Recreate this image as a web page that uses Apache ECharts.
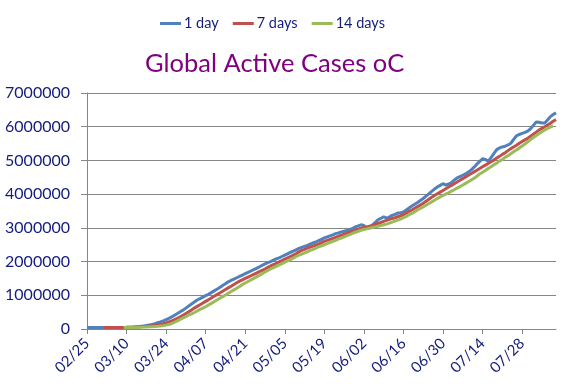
<!DOCTYPE html>
<html>
<head>
<meta charset="utf-8">
<script src="https://cdn.jsdelivr.net/npm/echarts@6/dist/echarts.min.js"></script>
<style>
html,body{margin:0;padding:0;background:#fff;}
#c{width:577px;height:384px;}
</style>
</head>
<body>
<div id="c"></div>
<script>
// Category labels: daily dates 02/25 .. 08/09
const monthDays = [["02", 25, 29], ["03", 1, 31], ["04", 1, 30], ["05", 1, 31], ["06", 1, 30], ["07", 1, 31], ["08", 1, 9]];
const categories = [];
monthDays.forEach(([m, a, b]) => { for (let d = a; d <= b; d++) categories.push(m + "/" + String(d).padStart(2, "0")); });

// Values in thousands
const oneDay = [
48,47,47,46,45,44,43,42,42,43,44,45,46,47,
50,55,60,66,73,82,92,103,118,138,160,185,210,240,275,
315,360,410,460,510,560,620,680,740,800,860,900,945,990,
1030,1080,1130,1180,1230,1290,1340,1400,1440,1480,1520,1560,1600,1640,
1680,1720,1760,1800,1840,1890,1930,1970,2000,2040,2080,2110,2150,2190,
2230,2270,2310,2350,2390,2420,2450,2480,2520,2550,2580,2620,2660,2700,
2730,2760,2790,2830,2850,2880,2900,2920,2950,2980,3030,3060,3090,3070,
2990,3010,3080,3160,3240,3280,3330,3290,3320,3370,3400,3440,3450,3470,
3530,3590,3650,3700,3750,3810,3870,3940,4010,4080,4150,4210,4260,4310,
4270,4300,4340,4420,4480,4520,4560,4600,4660,4720,4800,4890,4970,5050,
5030,4980,5080,5200,5320,5370,5400,5420,5460,5510,5620,5730,5770,5800,
5830,5870,5940,6040,6140,6130,6110,6110,6200,6300,6360,6410
];
const sevenDays = [
null,null,null,null,null,null,45,45,45,45,46,46,47,48,
49,51,53,56,60,65,71,78,87,97,110,125,142,160,180,
210,240,275,315,360,410,460,510,565,620,670,720,770,820,
870,920,970,1020,1070,1120,1170,1220,1270,1320,1370,1420,1460,1500,
1540,1580,1620,1660,1700,1740,1780,1830,1870,1910,1950,1990,2030,2070,
2110,2150,2190,2230,2290,2330,2360,2400,2430,2460,2490,2520,2560,2600,
2630,2660,2690,2720,2750,2780,2810,2840,2870,2900,2930,2960,2990,3010,
3030,3050,3070,3100,3130,3160,3190,3220,3250,3280,3300,3330,3360,3390,
3440,3490,3530,3580,3630,3680,3730,3790,3850,3910,3960,4010,4060,4110,
4160,4210,4260,4310,4360,4410,4460,4510,4560,4610,4660,4710,4760,4810,
4860,4910,4960,5010,5070,5120,5180,5230,5290,5350,5400,5450,5510,5560,
5610,5660,5720,5780,5840,5900,5950,6000,6050,6100,6160,6210
];
const fourteenDays = [
null,null,null,null,null,null,null,null,null,null,null,null,null,45,
46,47,48,50,52,55,58,62,67,70,76,82,90,100,
115,135,160,200,240,285,330,370,410,450,490,535,580,620,
660,710,760,810,860,910,960,1010,1060,1110,1160,1210,1260,1320,
1365,1410,1455,1500,1545,1590,1640,1690,1735,1780,1820,1860,1900,1940,
1980,2020,2060,2100,2150,2190,2220,2260,2290,2330,2360,2400,2440,2470,
2500,2530,2570,2600,2630,2670,2700,2730,2770,2800,2840,2870,2900,2930,
2950,2970,2990,3010,3030,3050,3070,3090,3110,3140,3170,3200,3230,3260,
3300,3340,3390,3430,3480,3530,3580,3620,3670,3720,3770,3820,3870,3920,
3960,4000,4040,4090,4130,4180,4220,4270,4320,4370,4420,4470,4530,4600,
4650,4700,4760,4810,4870,4920,4980,5030,5090,5140,5200,5260,5310,5370,
5430,5490,5550,5620,5680,5740,5800,5850,5900,5950,5990,6030
];
const seriesNames = ["1 day", "7 days", "14 days"];
const seriesColors = ["#4F81BD", "#C0504D", "#9BBB59"];
const yTicks = [0, 1000000, 2000000, 3000000, 4000000, 5000000, 6000000, 7000000];

const toUnits = arr => arr.map(v => v == null ? null : v * 1000);
const allData = [oneDay, sevenDays, fourteenDays];

const FONT = "Lato, 'Liberation Sans', sans-serif";
const NAVY = "#141c7c";
const chart = echarts.init(document.getElementById("c"));
chart.setOption({
  animation: false,
  backgroundColor: "#fff",
  title: {
    text: "Global Active Cases oC",
    left: 140, top: 46,
    textStyle: { color: "#800080", fontFamily: FONT, fontWeight: "normal", fontSize: 25.5 }
  },
  legend: {
    data: seriesNames,
    left: 155, top: 11,
    icon: "rect", itemWidth: 21, itemHeight: 3, itemGap: 14,
    textStyle: { color: NAVY, fontFamily: FONT, fontSize: 14.5, padding: [0, 0, 0, -2] }
  },
  grid: { left: 87, right: 21, top: 93, bottom: 55, containLabel: false },
  xAxis: {
    type: "category",
    data: categories,
    boundaryGap: false,
    axisLine: { lineStyle: { color: "#868686", width: 1 } },
    axisTick: { show: true, interval: 13, length: 5, lineStyle: { color: "#868686" } },
    axisLabel: { interval: 13, rotate: 45, margin: 12, color: NAVY, fontFamily: FONT, fontSize: 15 },
    splitLine: { show: false }
  },
  yAxis: {
    type: "value",
    min: yTicks[0], max: yTicks[yTicks.length - 1], interval: yTicks[1] - yTicks[0],
    axisLine: { show: true, lineStyle: { color: "#868686", width: 1 } },
    axisTick: { show: true, length: 6, lineStyle: { color: "#868686" } },
    axisLabel: { margin: 17, color: NAVY, fontFamily: FONT, fontSize: 16, formatter: v => String(v) },
    splitLine: { lineStyle: { color: "#868686", width: 1 } }
  },
  series: seriesNames.map((n, i) => ({
    name: n,
    type: "line",
    data: toUnits(allData[i]),
    showSymbol: false,
    symbol: "none",
    connectNulls: false,
    lineStyle: { color: seriesColors[i], width: 3 },
    itemStyle: { color: seriesColors[i] },
    z: 2 + i
  }))
});
</script>
</body>
</html>
